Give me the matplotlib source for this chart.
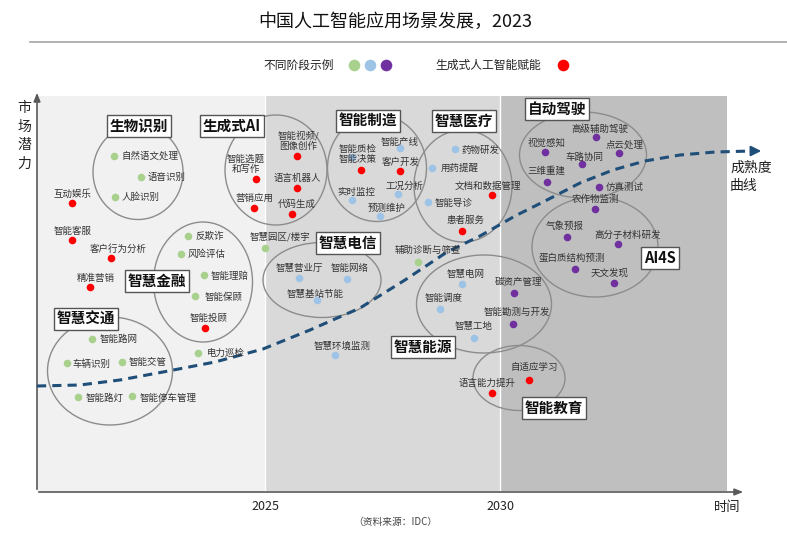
import matplotlib
matplotlib.use("Agg")
import matplotlib.pyplot as plt
from matplotlib.patches import Ellipse, Rectangle

plt.rcParams["font.family"] = ["Noto Sans CJK SC", "DejaVu Sans"]

# ---------- data (coordinates in chart units: x ~ pixel-time scale, y ~ pixel scale, inverted) ----------
year_ticks = [2025, 2030]
year_px = [265, 500]

# (label, dot_x, dot_y, label_x, label_y, ha)
green_items = [
    ("自然语文处理", 114, 156, 121, 156, "left"),
    ("语音识别", 141, 177, 148, 177, "left"),
    ("人脸识别", 115, 197, 122, 197, "left"),
    ("反欺诈", 188, 236, 196, 236, "left"),
    ("风险评估", 181, 254, 188, 254, "left"),
    ("智能理赔", 204, 275, 211, 276, "left"),
    ("智能保顾", 195, 296, 205, 297, "left"),
    ("电力巡检", 198, 353, 207, 353, "left"),
    ("智能路网", 92, 339, 100, 339, "left"),
    ("车辆识别", 67, 363, 72, 364, "left"),
    ("智能交管", 122, 362, 129, 362, "left"),
    ("智能路灯", 78, 397, 86, 398, "left"),
    ("智能停车管理", 132, 396, 140, 398, "left"),
    ("智慧园区/楼宇", 265, 248, 280, 237, "center"),
    ("辅助诊断与筛查", 418, 262, 428, 250, "center"),
]
red_items = [
    ("互动娱乐", 72, 203, 72, 194, "center"),
    ("智能客服", 72, 240, 73, 231, "center"),
    ("客户行为分析", 111, 258, 118, 249, "center"),
    ("精准营销", 90, 287, 96, 278, "center"),
    ("智能投顾", 205, 328, 209, 318, "center"),
    ("智能视频/\n图像创作", 297, 156, 298, 141, "center"),
    ("智能选题\n和写作", 256, 179, 246, 164, "center"),
    ("语言机器人", 297, 188, 297, 178, "center"),
    ("营销应用", 254, 208, 254, 198, "center"),
    ("代码生成", 292, 214, 297, 204, "center"),
    ("智能决策", 361, 170, 358, 159, "center"),
    ("客户开发", 400, 171, 401, 162, "center"),
    ("文档和数据管理", 492, 195, 488, 186, "center"),
    ("患者服务", 462, 231, 466, 220, "center"),
    ("语言能力提升", 492, 393, 487, 383, "center"),
    ("自适应学习", 529, 380, 534, 367, "center"),
]
blue_items = [
    ("智能质检", 352, 157, 358, 149, "center"),
    ("智能产线", 400, 148, 400, 142, "center"),
    ("工况分析", 398, 194, 404, 186, "center"),
    ("实时监控", 352, 200, 356, 192, "center"),
    ("预测维护", 380, 216, 387, 208, "center"),
    ("药物研发", 455, 149, 461, 150, "left"),
    ("用药提醒", 432, 168, 441, 168, "left"),
    ("智能导诊", 428, 202, 435, 203, "left"),
    ("智慧营业厅", 299, 278, 299, 268, "center"),
    ("智能网络", 347, 279, 350, 268, "center"),
    ("智慧基站节能", 317, 300, 315, 294, "center"),
    ("智慧环境监测", 335, 355, 342, 346, "center"),
    ("智慧电网", 462, 284, 466, 275, "center"),
    ("智能调度", 440, 309, 444, 298, "center"),
    ("智慧工地", 474, 338, 474, 326, "center"),
]
purple_items = [
    ("碳资产管理", 514, 293, 518, 283, "center"),
    ("智能勘测与开发", 513, 324, 517, 312, "center"),
    ("高级辅助驾驶", 596, 137, 600, 129, "center"),
    ("视觉感知", 545, 152, 547, 143, "center"),
    ("点云处理", 619, 153, 625, 145, "center"),
    ("车路协同", 582, 164, 584, 157, "center"),
    ("三维重建", 547, 182, 546, 171, "center"),
    ("仿真测试", 599, 187, 606, 187, "left"),
    ("农作物监测", 595, 209, 595, 199, "center"),
    ("气象预报", 567, 237, 565, 226, "center"),
    ("高分子材料研发", 618, 244, 628, 235, "center"),
    ("蛋白质结构预测", 575, 269, 572, 258, "center"),
    ("天文发现", 614, 283, 610, 273, "center"),
]

# (name, ellipse cx, cy, w, h, box cx, cy)
groups = [
    ("生物识别", 138, 172, 90, 95, 139, 126),
    ("生成式AI", 276, 170, 102, 110, 232, 126),
    ("智能制造", 377, 168, 99, 107, 368, 121),
    ("智慧医疗", 463, 186, 98, 112, 464, 121),
    ("智慧金融", 203, 282, 99, 120, 157, 281),
    ("智慧交通", 110, 371, 125, 108, 86, 319),
    ("智慧电信", 322, 280, 118, 75, 348, 243),
    ("智慧能源", 484, 304, 135, 98, 423, 347),
    ("智能教育", 519, 378, 92, 65, 554, 408),
    ("自动驾驶", 583, 155, 127, 86, 557, 109),
    ("AI4S", 595, 247, 126, 100, 660, 258),
]

curve_x = [37, 80, 120, 163, 215, 263, 310, 360, 405, 447, 480, 515, 547, 580, 613, 645, 680, 715, 752]
curve_y = [386, 385, 380, 372, 362, 349, 330, 308, 280, 252, 236, 216, 200, 183, 170, 161, 155, 152, 151]

# ---------- figure ----------
fig = plt.figure(figsize=(7.87, 5.37), dpi=100)
ax = fig.add_axes([0, 0, 1, 1])
ax.set_xlim(0, 787)
ax.set_ylim(537, 0)
ax.axis("off")

x_left, x_right, y_top, y_bot = 37, 727, 96, 491
ax.add_patch(Rectangle((x_left, y_top), year_px[0] - x_left, y_bot - y_top, fc="#f1f1f1", ec="none", zorder=0))
ax.add_patch(Rectangle((year_px[0], y_top), year_px[1] - year_px[0], y_bot - y_top, fc="#d9d9d9", ec="none", zorder=0))
ax.add_patch(Rectangle((year_px[1], y_top), x_right - year_px[1], y_bot - y_top, fc="#bfbfbf", ec="none", zorder=0))
for xp in year_px:
    ax.plot([xp, xp], [y_top, y_bot], color="white", lw=1, zorder=0.5)

ax.annotate("", xy=(37, 90), xytext=(37, 492),
            arrowprops=dict(arrowstyle="-|>,head_length=0.5,head_width=0.2", color="#595959", lw=1.2))
ax.annotate("", xy=(746, 492), xytext=(36, 492),
            arrowprops=dict(arrowstyle="-|>,head_length=0.5,head_width=0.2", color="#595959", lw=1.2))
for xp, yr in zip(year_px, year_ticks):
    ax.text(xp, 506, str(yr), ha="center", va="center", fontsize=9, color="#222222")
ax.text(727, 507, "时间", ha="center", va="center", fontsize=9.5, color="#222222")
for i, ch in enumerate("市场潜力"):
    ax.text(24, 108 + i * 18.5, ch, ha="center", va="center", fontsize=10, color="#222222")
ax.text(395, 522, "（资料来源：IDC）", ha="center", va="center", fontsize=7, color="#444444")

ax.text(395, 22, "中国人工智能应用场景发展，2023", ha="center", va="center", fontsize=13, color="#111111")
ax.plot([30, 787], [42, 42], color="#a6a6a6", lw=1.2)
ax.text(299, 65, "不同阶段示例", ha="center", va="center", fontsize=8.5, color="#222222")
for xd, c in zip([354, 370, 386], ["#a9d18e", "#9dc3e6", "#7030a0"]):
    ax.scatter([xd], [65], s=70, color=c, zorder=5, linewidths=0)
ax.text(488, 65, "生成式人工智能赋能", ha="center", va="center", fontsize=8.5, color="#222222")
ax.scatter([563], [65], s=70, color="#ff0000", zorder=5, linewidths=0)

for name, cx, cy, w, h, bx, by in groups:
    ax.add_patch(Ellipse((cx, cy), w, h, fc="none", ec="#8c8c8c", lw=1, zorder=2))

# maturity curve
ax.plot(curve_x, curve_y, color="#1f4e79", lw=2.2, ls=(0, (3, 2)), zorder=3)
ax.annotate("", xy=(curve_x[-1] + 12, curve_y[-1]), xytext=(curve_x[-1], curve_y[-1]),
            arrowprops=dict(arrowstyle="-|>,head_length=0.6,head_width=0.3", color="#1f4e79", lw=1.5), zorder=3)
ax.text(730, 177, "成熟度\n曲线", ha="left", va="center", fontsize=10, color="#222222", linespacing=1.4)

for items, col in [(green_items, "#a9d18e"), (red_items, "#ff0000"),
                   (blue_items, "#9dc3e6"), (purple_items, "#7030a0")]:
    for lab, dx, dy, lx, ly, ha in items:
        ax.scatter([dx], [dy], s=30, color=col, zorder=5, linewidths=0)
        ax.text(lx, ly, lab, ha=ha, va="center", fontsize=6.8, color="#333333", zorder=6, linespacing=1.1)

for name, cx, cy, w, h, bx, by in groups:
    ax.text(bx, by, name, ha="center", va="center", fontsize=10.5, fontweight="bold", color="#111111", zorder=7,
            bbox=dict(boxstyle="square,pad=0.22", fc="white", ec="#555555", lw=1))

fig.savefig("out.png", dpi=100)
